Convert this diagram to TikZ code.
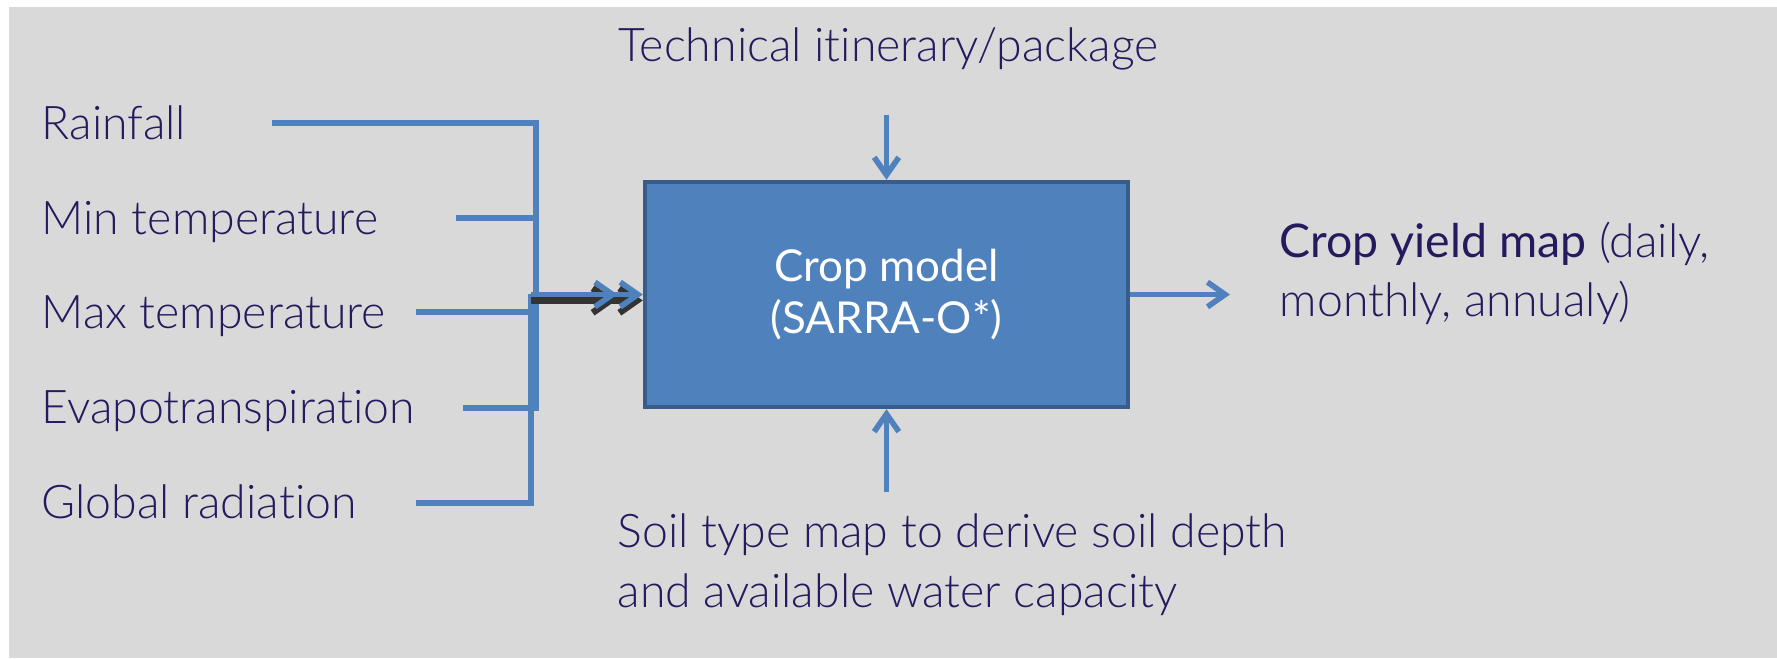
\documentclass[tikz,border=0pt]{standalone}
\usepackage{fontspec}
\newfontfamily\lightfont{Lato Light}[RawFeature={-liga;-dlig}]
\newfontfamily\regfont{Lato}[RawFeature={-liga;-dlig}]
\usepackage{tikz}
\usetikzlibrary{arrows.meta, positioning}
\definecolor{panelgray}{HTML}{D9D9D9}
\definecolor{linkblue}{HTML}{4F81BD}
\definecolor{boxedge}{HTML}{385D8A}
\definecolor{inktext}{HTML}{27195E}
\tikzset{
  lab/.style ={font=\lightfont\fontsize{13.2}{16.8}\selectfont, text=inktext, inner sep=0pt, align=left},
  mdl/.style ={rectangle, draw=boxedge, fill=linkblue, line width=1.2pt, minimum width=4.83cm, minimum height=2.25cm, align=center, text=white, font=\regfont\fontsize{12.5}{15}\selectfont},
  wire/.style={draw=linkblue, line width=1.6pt},
  fl/.style  ={wire, -{Straight Barb[length=5pt, width=7pt]}},
  fl2/.style ={wire, -{Straight Barb[length=5pt, width=7pt] Straight Barb[length=5pt, width=7pt]},
               preaction={draw=black!80, line width=1.9pt, transform canvas={yshift=-1.7pt}}},
}
\begin{document}
\begin{tikzpicture}[x=0.01cm, y=-0.01cm]
  \fill[white] (0,0) rectangle (1777,658);
  \fill[panelgray] (9,7) rectangle (1777,658);

  \node[mdl] (model) at (886.5,294.5) {Crop model\\(SARRA-O*)};
  \node[lab, anchor=base west] (tech) at (618,62) {Technical itinerary/package};
  \node[lab, anchor=base west] (soil) at (617,607) {Soil type map to derive soil depth\\and available water capacity};
  \node[lab, anchor=base west] (yield) at (1279,317) {{\regfont Crop yield map} (daily,\\monthly, annualy)};

  % weather inputs
  \node[lab, anchor=base west] (rain) at (41,140) {Rainfall};
  \node[lab, anchor=base west] (tmin) at (41,235) {Min temperature};
  \node[lab, anchor=base west] (tmax) at (41,328) {Max temperature};
  \node[lab, anchor=base west] (evap) at (41,423) {Evapotranspiration};
  \node[lab, anchor=base west] (glob) at (41,518) {Global radiation};

  \coordinate (rainS) at (272,123);
  \coordinate (tminS) at (456,218);
  \coordinate (tmaxS) at (416,312);
  \coordinate (evapS) at (463,408);
  \coordinate (globS) at (416,503);
  \coordinate (busU) at (536,408);
  \coordinate (busL) at (531,294.5);

  \draw[wire] (rainS) -| (busU) -- (evapS);
  \draw[wire] (tminS) -- (tminS -| busU);
  \draw[wire] (globS) -| (busL);
  \draw[wire] (tmaxS) -- (tmaxS -| busL);
  \draw[fl2] (busL) -- (model.west);

  % other inputs and output
  \coordinate (techIn) at (886.5,115);
  \coordinate (soilOut) at (886.5,492);
  \coordinate (yieldIn) at (1230,294.5);
  \draw[fl] (techIn) -- (model.north);
  \draw[fl] (soilOut) -- (model.south);
  \draw[fl] (model.east) -- (yieldIn);
\end{tikzpicture}
\end{document}
